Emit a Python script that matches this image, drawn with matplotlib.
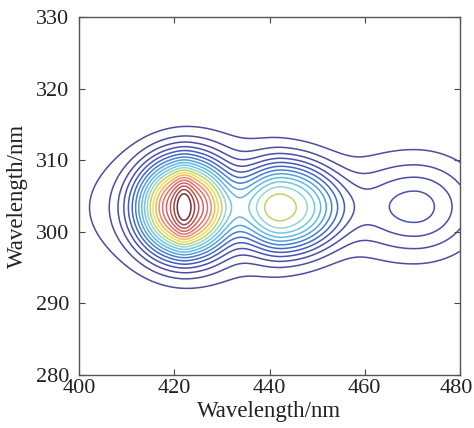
import numpy as np
import matplotlib
matplotlib.use("Agg")
import matplotlib.pyplot as plt
from matplotlib.transforms import ScaledTranslation

# Axis ticks (nm)
x_ticks = [400, 420, 440, 460, 480]
y_ticks = [280, 290, 300, 310, 320, 330]

# Peak components: centre (nm), relative height,
# widths to the left / right (x) and vertical width (y) in nm, profile shape exponent
peak_x = [422.0, 422.0, 422.0, 436.0, 443.0, 470.5]
peak_y = [303.6, 303.4, 303.4, 303.5, 303.4, 303.5]
peak_amp = [0.12, 0.73, 0.13, 0.06, 0.50, 0.212]
peak_sx_left = [1.4, 7.1, 13.5, 12.0, 6.8, 10.0]
peak_sx_right = [1.4, 7.1, 13.5, 12.0, 9.0, 8.8]
peak_sy = [3.2, 5.1, 5.5, 6.5, 4.8, 4.6]
peak_shape = [2.0, 2.4, 2.0, 2.0, 2.6, 2.0]

# Contour levels (relative intensity) and their line colours, low -> high
levels = np.arange(1, 21) / 21.0
level_colors = ['#4d4d9e', '#4c4ca2', '#4a4ca8', '#4850b0', '#4659bb',
                '#4068c6', '#4680d2', '#55a0dc', '#62b8e4', '#6ec8e6',
                '#9ad4cc', '#bfd36a', '#ebe05a', '#f0b85a', '#e88a6a',
                '#e07070', '#d46464', '#c05656', '#9a4444', '#6e3030']

plt.rcParams['font.family'] = ['Liberation Serif', 'DejaVu Serif']

fig = plt.figure(figsize=(4.74, 4.28), dpi=100)
ax = fig.add_axes([0.1667, 0.1238, 0.8038, 0.8365])

gx = np.linspace(400, 480, 321)
gy = np.linspace(280, 330, 501)
X, Y = np.meshgrid(gx, gy)
Z = np.zeros_like(X)
for px, py, a, sl, sr, sy, p in zip(peak_x, peak_y, peak_amp, peak_sx_left,
                                     peak_sx_right, peak_sy, peak_shape):
    sx = np.where(X < px, sl, sr)
    r2 = ((X - px) / sx) ** 2 + ((Y - py) / sy) ** 2
    Z += a * np.exp(-0.5 * r2 ** (p / 2))

ax.contour(X, Y, Z, levels=levels, colors=level_colors, linewidths=1.1)

ax.set_xlim(400, 480)
ax.set_ylim(280, 330)
ax.set_xticks(x_ticks)
ax.set_yticks(y_ticks)
ax.tick_params(direction='in', length=4, width=0.8, top=True, right=True,
               labelsize=16, colors='#444444', labelcolor='#222222')
ax.tick_params(axis='x', pad=3)
ax.tick_params(axis='y', pad=7)
for s in ax.spines.values():
    s.set_color('#555555')
    s.set_linewidth(1.0)
ax.set_xlabel('Wavelength/nm', fontsize=16.5, color='#222222', labelpad=2)
ax.set_ylabel('Wavelength/nm', fontsize=16.5, color='#222222', labelpad=6)

fig.canvas.draw()
last = ax.get_xticklabels()[-1]
last.set_transform(last.get_transform() + ScaledTranslation(-4 / 100, 0, fig.dpi_scale_trans))

fig.savefig('out.png', dpi=100)
